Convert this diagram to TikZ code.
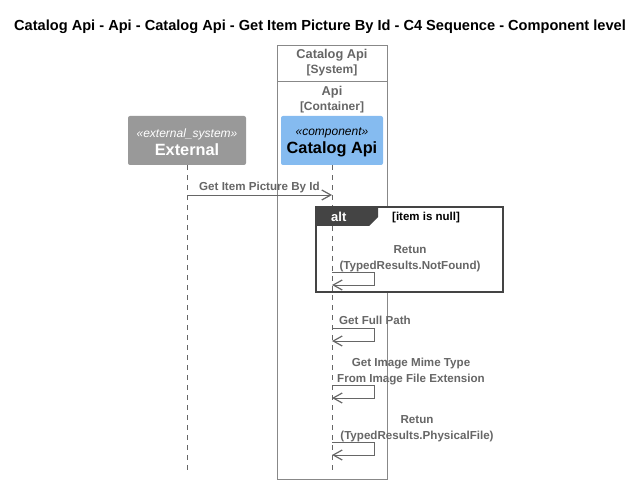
\documentclass[tikz,border=0pt]{standalone}
\usepackage{fontspec}
\setmainfont{Liberation Sans}
\usetikzlibrary{arrows.meta}
\definecolor{txtgrey}{HTML}{666666}
\definecolor{extgrey}{HTML}{999999}
\definecolor{compblue}{HTML}{85BBF0}
\definecolor{frameline}{HTML}{444444}
\definecolor{boxline}{HTML}{888888}
\tikzset{
  msg/.style={font=\fontsize{11.6}{16}\selectfont\bfseries, text=txtgrey, inner sep=0pt, align=center},
  msgline/.style={draw=txtgrey, line width=0.9pt, -{Straight Barb[length=9pt,width=10pt,line width=1.2pt]}},
  life/.style={draw=txtgrey, dash pattern=on 5pt off 5pt, line width=0.5pt},
  partbox/.style={rounded corners=2pt, minimum width=#1, minimum height=49pt, inner sep=0pt, align=center},
  hdr/.style={font=\fontsize{12.8}{15}\selectfont\bfseries, text=txtgrey, align=center, inner sep=0pt},
}
\begin{document}
\begin{tikzpicture}[x=1pt,y=-1pt]
\useasboundingbox (0,0) rectangle (641,484);
% title
\node[font=\fontsize{14.6}{16}\selectfont\bfseries, inner sep=0pt] (title) at (320,26.5) {Catalog Api - Api - Catalog Api - Get Item Picture By Id - C4 Sequence - Component level};
% system boundary
\draw[draw=boxline, line width=0.8pt] (277,45) rectangle (387,479);
\draw[draw=boxline, line width=0.8pt] (277,81) -- (387,81);
\node[hdr] (sys) at (332,63) {Catalog Api\\{\fontsize{12}{15}\selectfont [System]}};
\node[hdr] (cont) at (332,99.5) {Api\\{\fontsize{12}{15}\selectfont [Container]}};
% participants
\node[partbox=118pt, fill=extgrey, text=white] (ext) at (187,140.5) {};
\node[partbox=102pt, fill=compblue, text=black] (api) at (332,140.5) {};
\node[text=white, align=center, inner sep=0pt] (extl) at (187,142.5) {{\fontsize{12}{13}\selectfont\itshape «external\_system»}\\[3pt]{\fontsize{16.3}{17}\selectfont\bfseries External}};
\node[text=black, align=center, inner sep=0pt] (apil) at (332,142.5) {{\fontsize{12}{13}\selectfont\itshape «component»}\\[3pt]{\fontsize{16.3}{17}\selectfont\bfseries Catalog Api}};
\coordinate (extend) at (187,470);
\coordinate (apiend) at (332,470);
\draw[life] (ext.south) -- (extend);
\draw[life] (api.south) -- (apiend);
% message 1
\coordinate (m1a) at (187,195);
\coordinate (m1b) at (332,195);
\draw[msgline] (m1a) -- (m1b);
\node[msg, anchor=base west] (m1l) at (199,191) {Get Item Picture By Id};
% alt frame
\draw[draw=frameline, line width=1.2pt, fill=white] (316,207) rectangle (503,292);
\fill[frameline] (316,207) -- (378,207) -- (378,217) -- (369,226) -- (316,226) -- cycle;
\node[font=\fontsize{13}{14}\selectfont\bfseries, text=white, anchor=base west, inner sep=0pt] (altl) at (331,222) {alt};
\node[font=\fontsize{11.5}{12}\selectfont\bfseries, text=black, anchor=base west, inner sep=0pt] (cond) at (392,221) {{[}item is null{]}};
\coordinate (altlt) at (332,226);
\coordinate (altlb) at (332,292);
\draw[life] (altlt) -- (altlb);
% self message 1
\node[msg] (s1l) at (410,258.5) {Retun\\(TypedResults.NotFound)};
\coordinate (s1s) at (332,272);
\coordinate (s1r1) at (374,272);
\coordinate (s1r2) at (374,285);
\coordinate (s1e) at (332,285);
\draw[msgline] (s1s) -- (s1r1) -- (s1r2) -- (s1e);
% self message 2
\node[msg, anchor=base west] (s2l) at (339,324) {Get Full Path};
\coordinate (s2s) at (332,328);
\coordinate (s2r1) at (374,328);
\coordinate (s2r2) at (374,341);
\coordinate (s2e) at (332,341);
\draw[msgline] (s2s) -- (s2r1) -- (s2r2) -- (s2e);
% self message 3
\node[msg] (s3l) at (411,371.5) {Get Image Mime Type\\From Image File Extension};
\coordinate (s3s) at (332,385);
\coordinate (s3r1) at (374,385);
\coordinate (s3r2) at (374,398);
\coordinate (s3e) at (332,398);
\draw[msgline] (s3s) -- (s3r1) -- (s3r2) -- (s3e);
% self message 4
\node[msg] (s4l) at (417,428.5) {Retun\\(TypedResults.PhysicalFile)};
\coordinate (s4s) at (332,442);
\coordinate (s4r1) at (374,442);
\coordinate (s4r2) at (374,455);
\coordinate (s4e) at (332,455);
\draw[msgline] (s4s) -- (s4r1) -- (s4r2) -- (s4e);
\end{tikzpicture}
\end{document}
